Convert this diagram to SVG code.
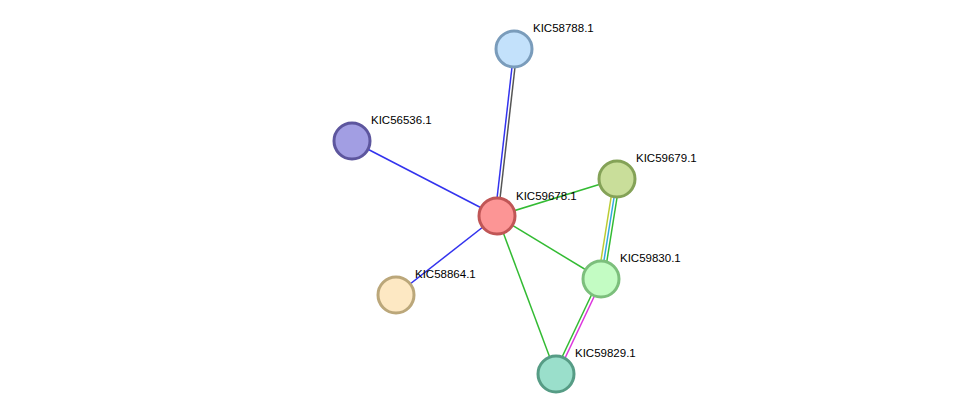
<svg xmlns="http://www.w3.org/2000/svg" width="975" height="420" viewBox="0 0 975 420">
<style>
.n{stroke-width:3}
text{font-family:"Liberation Sans",Arial,sans-serif;font-size:11.5px;fill:#000}
line{stroke-width:1.5}
</style>
<rect width="975" height="420" fill="#fff"/>
<g id="connectors">
<line x1="512" y1="67" x2="495" y2="216" stroke="#3333ee"/>
<line x1="515" y1="67" x2="498" y2="216" stroke="#555"/>
<line x1="352" y1="141" x2="497" y2="216" stroke="#3333ee"/>
<line x1="396" y1="295" x2="497" y2="216" stroke="#3333ee"/>
<line x1="497" y1="216" x2="617" y2="179" stroke="#33bb33"/>
<line x1="497" y1="216" x2="601" y2="279" stroke="#33bb33"/>
<line x1="497" y1="216" x2="556" y2="374" stroke="#33bb33"/>
<line x1="614" y1="179" x2="598" y2="279" stroke="#bbcc33"/>
<line x1="617" y1="179" x2="601" y2="279" stroke="#33aadd"/>
<line x1="620" y1="179" x2="604" y2="279" stroke="#33bb33"/>
<line x1="599" y1="279" x2="554" y2="374" stroke="#33bb33"/>
<line x1="602" y1="280" x2="557" y2="375" stroke="#dd33dd"/>
</g>
<g id="KIC58788.1"><circle cx="514" cy="49" r="18" fill="#c3e1fb" stroke="#7a9cbb" class="n"/><text x="533" y="32">KIC58788.1</text></g>
<g id="KIC56536.1"><circle cx="352" cy="141" r="18" fill="#a29ee3" stroke="#5d569e" class="n"/><text x="371" y="124">KIC56536.1</text></g>
<g id="KIC59678.1"><circle cx="497" cy="216" r="18" fill="#fc9595" stroke="#c05656" class="n"/><text x="516" y="200">KIC59678.1</text></g>
<g id="KIC59679.1"><circle cx="617" cy="179" r="18" fill="#c9de9a" stroke="#84a257" class="n"/><text x="636" y="162">KIC59679.1</text></g>
<g id="KIC59830.1"><circle cx="601" cy="279" r="18" fill="#c3fcc3" stroke="#7cbf7c" class="n"/><text x="620" y="262">KIC59830.1</text></g>
<g id="KIC58864.1"><circle cx="396" cy="295" r="18" fill="#fde8c3" stroke="#bba77a" class="n"/><text x="415" y="278">KIC58864.1</text></g>
<g id="KIC59829.1"><circle cx="556" cy="374" r="18" fill="#9adfcb" stroke="#569c85" class="n"/><text x="575" y="357">KIC59829.1</text></g>
</svg>
